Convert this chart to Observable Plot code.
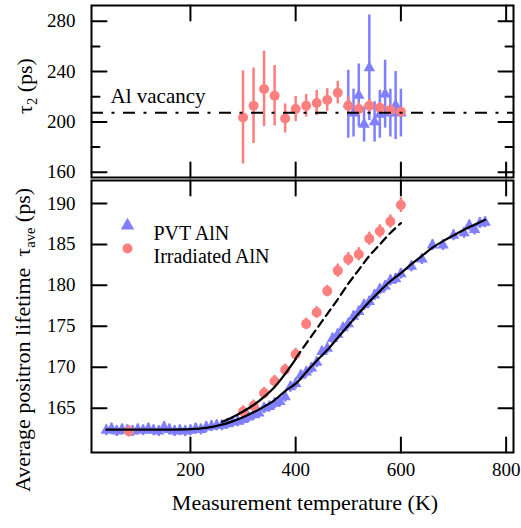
<!DOCTYPE html>
<html>
<head>
<meta charset="utf-8">
<script src="https://cdn.jsdelivr.net/npm/d3@7"></script>
<script src="https://cdn.jsdelivr.net/npm/@observablehq/plot@0.6"></script>
<style>
  body { margin: 0; background: #fff; }
  #wrap { position: relative; width: 521px; height: 528px; font-family: "Liberation Serif", "Times New Roman", serif; color: #000; overflow: hidden; }
  #wrap svg { position: absolute; left: 0; }
  .ylab { position: absolute; white-space: nowrap; font-size: 22px; line-height: 1; transform: translate(-50%, -50%) rotate(-90deg); }
  .xlab { position: absolute; white-space: nowrap; font-size: 22px; line-height: 1; transform: translate(-50%, -50%); }
  .ylab sub { font-size: 0.66em; vertical-align: -0.35em; line-height: 0; }
</style>
</head>
<body>
<div id="wrap"></div>
<script>
// ---------- data ----------
const xDomain = [12, 814];
const xTicks = [200, 400, 600, 800];
const topYDomain = [155.8, 292.5];
const topYMajor = [160, 200, 240, 280];
const topYMinor = [180, 220, 260];
const botYDomain = [159.6, 192.8];
const botYTicks = [165, 170, 175, 180, 185, 190];
const alVacancy = 207.2;

// top panel: tau2 (ps)
const irrT2 = [300, 320, 340, 360, 380, 400, 420, 440, 460, 480, 500, 520, 540, 560, 580, 600];
const irrTau2 = [203.5, 212.8, 226.2, 220.8, 202.7, 210.2, 212.8, 215.0, 217.4, 223.2, 212.8, 210.2, 212.8, 211.2, 209.4, 208.0];
const irrTau2Err = [37, 30, 30, 24, 11.5, 10, 9, 10, 9, 9, 7, 5, 5, 4, 4, 3];
const pvtT2 = [500, 510, 520, 530, 540, 550, 560, 570, 580, 590, 600];
const pvtTau2 = [214, 207, 221, 198, 243, 200, 206, 222, 207, 213, 207];
const pvtTau2Err = [27, 19, 25, 14, 42, 16, 19, 27, 19, 27, 19];

// bottom panel: average lifetime (ps)
const irrT = [83, 300, 320, 340, 360, 380, 400, 420, 440, 460, 480, 500, 520, 540, 560, 580, 600];
const irrAve = [162.2, 164.6, 165.3, 166.85, 168.3, 169.7, 171.6, 175.3, 176.7, 179.3, 181.8, 183.2, 183.8, 185.7, 186.6, 187.8, 189.8];
const irrAveErr = [0.7, 0.7, 0.7, 0.7, 0.7, 0.7, 0.7, 0.7, 0.7, 0.7, 0.8, 0.8, 0.8, 0.8, 0.8, 0.8, 0.9];

const pvtT = [40, 50, 60, 70, 80, 90, 100, 110, 120, 130, 140, 150, 160, 170, 180, 190, 200, 210, 220, 230,
  240, 250, 260, 270, 280, 290, 300, 310, 320, 330, 340, 350, 360, 370, 380, 390, 400, 410, 420, 430,
  440, 450, 460, 470, 480, 490, 500, 510, 520, 530, 540, 550, 560, 570, 580, 590, 600, 620, 640, 660,
  680, 700, 720, 730, 740, 750, 760];
const pvtAve = [162.3, 162.5, 162.2, 162.4, 162.3, 162.2, 162.4, 162.3, 162.5, 162.3, 162.2, 162.7, 162.4, 162.2, 162.3, 162.2, 162.3, 162.5, 162.4, 162.7,
  162.8, 162.9, 162.9, 163.1, 163.3, 163.4, 163.6, 163.9, 164.2, 164.4, 165.0, 165.2, 165.6, 165.8, 166.4, 167.6, 168.0, 169.0, 169.4, 169.9,
  170.6, 171.9, 172.3, 173.5, 174.0, 174.8, 175.3, 176.2, 176.8, 177.6, 178.0, 178.8, 179.5, 179.9, 180.6, 180.8, 181.4, 182.3, 183.2, 184.9,
  184.9, 186.1, 186.4, 187.3, 186.8, 187.6, 187.7];
const pvtAveErr = 0.65;

// fitted curves
const pvtFitT = [40, 100, 150, 200, 230, 260, 280, 300, 320, 340, 360, 380, 400, 420, 440, 460, 480, 500, 520, 540, 560, 580, 600, 620, 640, 660, 680, 700, 720, 740, 760];
const pvtFitAve = [162.4, 162.4, 162.4, 162.45, 162.6, 163.0, 163.4, 163.9, 164.5, 165.2, 166.0, 167.1, 168.0, 169.4, 170.8, 172.1, 173.6, 175.1, 176.6, 178.0, 179.3, 180.5, 181.5, 182.6, 183.6, 184.6, 185.4, 186.1, 186.8, 187.4, 188.0];
const irrFitT = [260, 280, 300, 320, 340, 360, 380, 400];
const irrFitAve = [163.35, 163.9, 164.6, 165.4, 166.4, 167.6, 169.2, 171.0];
const irrExtT = [400, 420, 440, 460, 480, 500, 520, 540, 560, 580, 600];
const irrExtAve = [171.1, 172.9, 174.7, 176.5, 178.3, 180.2, 181.9, 183.6, 185.0, 186.4, 187.6];

const legendLabels = ["PVT AlN", "Irradiated AlN"];

// ---------- styles ----------
const BLUE = "#7f7fff";
const RED = "#ff7f7f";
const FONT = "Liberation Serif";
const W = 521;
const ML = 91, MR = 8;

const tickShape = { draw(ctx, l) { ctx.moveTo(0, 0); ctx.lineTo(0, -l); } };
function ticks(values, scaleKey, anchor, len) {
  const rot = { left: 90, right: -90, bottom: 0, top: 180 }[anchor];
  const opts = { frameAnchor: anchor, rotate: rot, length: len, anchor: "start", shape: tickShape, stroke: "black", strokeWidth: 2 };
  opts[scaleKey] = d => d;
  return Plot.vector(values, opts);
}

const irr2 = irrT2.map((T, i) => ({ T, v: irrTau2[i], e: irrTau2Err[i] }));
const pvt2 = pvtT2.map((T, i) => ({ T, v: pvtTau2[i], e: pvtTau2Err[i] }));
const irrA = irrT.map((T, i) => ({ T, v: irrAve[i], e: irrAveErr[i] }));
const pvtA = pvtT.map((T, i) => ({ T, v: pvtAve[i], e: pvtAveErr }));
const pvtFit = pvtFitT.map((T, i) => ({ T, v: pvtFitAve[i] }));
const irrFit = irrFitT.map((T, i) => ({ T, v: irrFitAve[i] }));
const irrExt = irrExtT.map((T, i) => ({ T, v: irrExtAve[i] }));

const common = {
  width: W, marginLeft: ML, marginRight: MR,
  style: { fontFamily: FONT, fontSize: "19px", background: "transparent", overflow: "visible", color: "black" }
};

// ---------- top panel ----------
const topPlot = Plot.plot({
  ...common,
  height: 180, marginTop: 5, marginBottom: 3,
  x: { domain: xDomain, axis: null },
  y: { domain: topYDomain, axis: null },
  marks: [
    Plot.ruleX(pvt2, { x: "T", y1: d => d.v - d.e, y2: d => d.v + d.e, stroke: BLUE, strokeWidth: 2.5 }),
    Plot.dot(pvt2, { x: "T", y: "v", symbol: "triangle", r: 4.3, fill: BLUE }),
    Plot.ruleX(irr2, { x: "T", y1: d => d.v - d.e, y2: d => d.v + d.e, stroke: RED, strokeWidth: 2.5 }),
    Plot.dot(irr2, { x: "T", y: "v", r: 5, fill: RED }),
    Plot.ruleY([alVacancy], { stroke: "black", strokeWidth: 2, strokeDasharray: "12,8.5,3,8.5" }),
    Plot.text(["Al vacancy"], { frameAnchor: "left", y: () => alVacancy, text: d => d, dx: 19, dy: -17, textAnchor: "start", fontSize: 21 }),
    Plot.axisY(topYMajor, { anchor: "left", tickSize: 0, tickPadding: 16, fontSize: 19, label: null }),
    ticks(topYMajor, "y", "left", 15),
    ticks(topYMinor, "y", "left", 8),
    ticks(topYMajor, "y", "right", 15),
    ticks(topYMinor, "y", "right", 8),
    ticks(xTicks, "x", "bottom", 15),
    ticks(xTicks, "x", "top", 15),
    Plot.frame({ stroke: "black", strokeWidth: 2 })
  ]
});
topPlot.style.top = "0px";

// ---------- bottom panel ----------
const botPlot = Plot.plot({
  ...common,
  height: 351, marginTop: 3, marginBottom: 76,
  x: { domain: xDomain, axis: null },
  y: { domain: botYDomain, axis: null },
  marks: [
    Plot.ruleX(pvtA, { x: "T", y1: d => d.v - d.e, y2: d => d.v + d.e, stroke: BLUE, strokeWidth: 2.5 }),
    Plot.dot(pvtA, { x: "T", y: "v", symbol: "triangle", r: 4.3, fill: BLUE }),
    Plot.ruleX(irrA, { x: "T", y1: d => d.v - d.e, y2: d => d.v + d.e, stroke: RED, strokeWidth: 2.5 }),
    Plot.dot(irrA, { x: "T", y: "v", r: 5, fill: RED }),
    Plot.line(pvtFit, { x: "T", y: "v", stroke: "black", strokeWidth: 2.2, curve: "catmull-rom" }),
    Plot.line(irrFit, { x: "T", y: "v", stroke: "black", strokeWidth: 2.2, curve: "catmull-rom" }),
    Plot.line(irrExt, { x: "T", y: "v", stroke: "black", strokeWidth: 2.2, strokeDasharray: "8,5", curve: "catmull-rom" }),
    // legend
    Plot.dot([legendLabels[0]], { frameAnchor: "top-left", dx: 36, dy: 45, symbol: "triangle", r: 5, fill: BLUE }),
    Plot.text([legendLabels[0]], { frameAnchor: "top-left", dx: 62, dy: 45, text: d => d, textAnchor: "start", fontSize: 20 }),
    Plot.dot([legendLabels[1]], { frameAnchor: "top-left", dx: 36, dy: 68, r: 5, fill: RED }),
    Plot.text([legendLabels[1]], { frameAnchor: "top-left", dx: 62, dy: 68, text: d => d, textAnchor: "start", fontSize: 20 }),
    // axes
    Plot.axisY(botYTicks, { anchor: "left", tickSize: 0, tickPadding: 16, fontSize: 19, label: null }),
    Plot.axisX(xTicks, { anchor: "bottom", tickSize: 0, tickPadding: 10, fontSize: 19, label: null }),
    ticks(botYTicks, "y", "left", 15),
    ticks(botYTicks, "y", "right", 15),
    ticks(xTicks, "x", "bottom", 15),
    ticks(xTicks, "x", "top", 15),
    Plot.frame({ stroke: "black", strokeWidth: 2 })
  ]
});
botPlot.style.top = "177px";

const wrap = document.getElementById("wrap");
wrap.append(topPlot, botPlot);

// axis titles
function addLabel(cls, html, cx, cy) {
  const d = document.createElement("div");
  d.className = cls;
  d.innerHTML = html;
  d.style.left = cx + "px";
  d.style.top = cy + "px";
  wrap.append(d);
}
addLabel("ylab", "τ<sub>2</sub> (ps)", 25, 86);
addLabel("ylab", "Average positron lifetime&nbsp; τ<sub>ave</sub> (ps)", 23, 340);
addLabel("xlab", "Measurement temperature (K)", 305, 503);
</script>
</body>
</html>
